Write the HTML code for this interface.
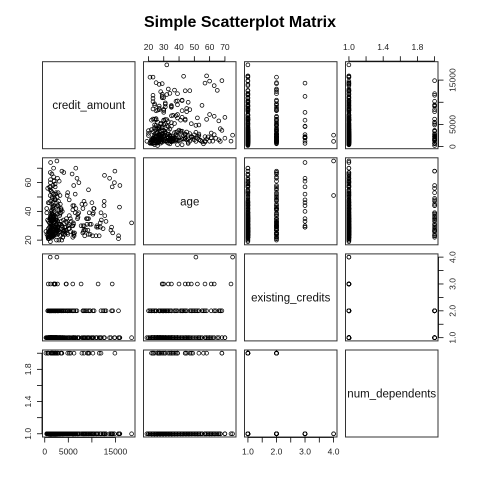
<!DOCTYPE html>
<html><head><meta charset="utf-8"><style>
html,body{margin:0;padding:0;background:#fff}
svg{display:block;font-family:"Liberation Sans",sans-serif}
</style></head><body>
<svg id="chart" width="480" height="480" viewBox="0 0 480 480">
<text x="240" y="27" text-anchor="middle" font-size="16" font-weight="bold">Simple Scatterplot Matrix</text>
</svg>
<script>
const varNames = ["credit_amount","age","existing_credits","num_dependents"];
const creditAmount = [1169,5951,2096,7882,4870,9055,2835,6948,3059,5234,1295,4308,1567,1199,1403,1282,2424,8072,12579,3430,2134,2647,2241,1804,2069,1374,426,409,2415,6836,1913,4020,5866,1264,1474,4746,6110,2100,1225,458,2333,1158,6204,6187,6143,1393,2299,1352,7228,2073,2333,5965,1262,3378,2225,783,6468,9566,1961,6229,1391,1537,1953,14421,3181,5190,2171,1007,1819,2394,8133,730,1164,5954,1977,1526,3965,4771,9436,3832,5943,1213,1568,1755,2315,1412,1295,12612,2249,1108,618,1409,797,3617,1318,15945,2012,2622,2337,7057,1469,2323,932,1919,2445,11938,6458,6078,7721,18424,15857,15653,14896,14318,15672,14782,14179,14027,13756,12749,12680,12389,11816,11760,11560,11328,11054,10875,10477,10366,10297,10222,10144,9857,9629,9283,9277,9271,9157,8947,8858,8648,8588,8471,8386,8335,8318,8229,8086,250,4042,1239,2580,3650,1884,2712,5800,7238,6580,3000,1200,900,2500,700,1500,3800,1100,2900,600,4500,1600,2700,3300,1800,1000,3500,5200,4200,2200,1700,2800,3900,4600,5500,6600,7000,12000,13000,10000,11000,
1520,2310,980,3120,1750,2640,1340,860,2080,3560,1190,2470,1630,740,2890,1910,3240,1460,2150,1080,1820,2560,3410,1290,950,2730,1570,2010,3680,1370,820,2380,1690,3050,1230,2220,1510,2950,1140,1860,2640,3330,1420,990,2480,1770,3140,1260,2060,1590,2820,880,1960,2370,3720,1310,2590,1720,1050,2270,4120,4380,4730,5060,5420,3910,4290,4950,5610,6040,2130,1480,1920,2660,1110,3470,2910,1660,2420,1350,1040,1560,2190,2840,3230,1210,1880,2520,3010,1430,4560,5150,6320,3780,4890,2760,1980,1620,2310,3590,640,780,1130,1450,1830,2260,2690,3150,1270,1710,920,1540,2050,2580,3370,1180,1990,2430,3810,1330];
const age = [67,22,49,45,53,35,53,35,61,28,25,24,22,60,28,32,53,25,44,31,48,44,48,44,26,36,39,42,34,63,36,27,30,57,33,25,31,37,37,24,30,26,44,24,58,35,39,23,39,28,29,30,25,31,57,26,52,31,23,23,27,50,61,25,26,48,29,22,37,25,30,46,51,41,40,66,34,51,39,22,44,47,24,58,52,29,27,47,30,28,56,54,33,20,54,58,61,34,36,36,41,24,24,35,26,39,39,32,30,32,43,21,68,57,23,60,29,27,63,37,65,28,29,32,23,29,30,23,42,42,39,38,23,31,24,55,35,24,27,31,35,27,45,23,30,47,27,26,42,26,67,74,75,68,70,63,66,60,70,20,19,21,20,22,23,22,27,27,34,33,31,38,45,42,46,41,37,29,33,28,24,26,35,26,42,38,34,33,46,29,
23,26,29,31,34,27,25,22,28,33,36,24,30,21,27,32,38,26,29,35,23,28,41,31,25,27,37,33,30,22,24,28,43,26,34,29,39,31,25,44,27,23,35,32,28,46,26,30,24,38,29,21,33,27,40,25,31,36,22,34,26,29,32,28,35,24,27,30,33,25,48,45,52,50,55,42,47,49,43,40,57,53,59,44,51,62,64,46,41,38,27,31,25,29,24,33,36,22,26,30,23,28,35,27,32,25,29,37,31,24,26,34,28,30,39,22,33,27,25,36];
const existingCredits = [2,1,1,1,2,1,1,1,1,2,1,1,1,1,1,2,1,1,1,1,3,1,2,1,1,1,1,1,1,2,1,1,2,1,1,2,1,2,1,1,1,1,2,1,2,1,1,1,1,1,1,1,1,1,1,1,1,2,1,1,2,2,2,2,1,1,2,1,1,1,2,3,4,1,3,1,2,2,1,1,3,1,1,1,2,1,1,1,2,1,2,1,1,1,1,1,3,1,1,1,1,1,2,1,1,2,1,1,3,1,1,2,1,3,1,1,2,1,1,2,1,2,1,1,1,3,1,1,2,1,1,2,1,1,2,1,1,2,1,1,2,1,2,1,1,2,1,1,2,1,2,3,4,2,1,3,2,1,1,1,1,1,2,1,1,2,1,2,1,3,1,2,1,2,1,2,1,1,2,1,2,1,3,1,2,1,1,2,1,
1,2,1,1,2,1,1,2,1,1,2,1,1,1,2,1,2,1,1,1,2,1,1,2,1,1,2,1,1,1,2,1,1,2,1,1,3,1,2,1,1,2,1,1,2,1,1,1,2,1,1,2,1,1,2,1,2,1,1,2,1,1,2,1,1,2,1,1,2,1,1,2,1,3,1,2,1,1,2,1,1,2,1,1,2,1,1,2,1,1];
const numDependents = [1,1,2,2,2,2,1,1,1,1,1,1,1,1,1,1,1,1,1,2,1,2,2,1,1,2,1,1,1,1,1,1,1,1,1,1,1,1,1,1,1,1,2,1,1,1,1,1,1,1,1,1,1,1,1,2,1,1,1,1,1,1,1,1,1,1,2,1,1,1,1,1,1,1,1,1,1,1,2,1,1,1,1,2,1,1,1,1,1,1,2,1,1,1,1,1,1,1,1,1,1,1,1,1,1,2,1,1,1,1,1,1,2,1,1,1,1,1,1,1,1,1,1,1,2,1,1,1,1,1,1,2,1,1,1,1,1,2,1,1,1,1,1,1,1,2,1,1,1,2,1,1,1,2,1,1,1,1,1,1,1,1,1,2,1,1,1,1,1,1,2,1,1,1,1,1,2,1,1,1,1,1,1,2,1,1,1,1,
1,1,2,1,1,1,2,1,1,1,1,2,1,1,1,1,2,1,1,1,1,1,2,1,1,1,1,2,1,1,1,1,1,2,1,1,1,1,2,1,1,1,1,1,2,1,1,1,1,2,1,1,1,1,1,2,1,1,1,1];
const creditTicks = [0,5000,10000,15000];
const creditTickLabels = ["0","5000","","15000"];
const ageTicks = [20,30,40,50,60,70];
const ageTopLabels = ["20","30","40","50","60","70"];
const ageLeftLabels = ["20","","40","","60",""];
const existingTicks = [1,1.5,2,2.5,3,3.5,4];
const existingTickLabels = ["1.0","","2.0","","3.0","","4.0"];
const depTicks = [1,1.2,1.4,1.6,1.8,2];
const depTickLabels = ["1.0","","1.4","","1.8",""];

const svg = document.getElementById('chart');
const NS = 'http://www.w3.org/2000/svg';
const series = [creditAmount, age, existingCredits, numDependents];
const n = creditAmount.length;
const X0 = 42.5, Y0 = 61.7, W = 92.5, H = 87, PX = 101, PY = 96.1;
function rng(a){let lo=Infinity,hi=-Infinity;for(let i=0;i<n;i++){const v=a[i]??1;if(v<lo)lo=v;if(v>hi)hi=v;}const p=(hi-lo)*0.04||0.04;return [lo-p,hi+p];}
const ranges = series.map(rng);
function sx(k,col,v){const r=ranges[k];return X0+col*PX+(v-r[0])/(r[1]-r[0])*W;}
function sy(k,row,v){const r=ranges[k];return Y0+row*PY+H-(v-r[0])/(r[1]-r[0])*H;}
function mk(tag,attrs){const e=document.createElementNS(NS,tag);for(const k in attrs)e.setAttribute(k,attrs[k]);return e;}

for(let r=0;r<4;r++)for(let c=0;c<4;c++){
  const g=mk('g',{});
  
  
  svg.appendChild(g);
  const box=mk('rect',{x:X0+c*PX,y:Y0+r*PY,width:W,height:H,fill:'none',stroke:'#333','stroke-width':1});
  
  
  g.appendChild(box);
  if(r===c){
    const t=mk('text',{x:X0+c*PX+W/2,y:Y0+r*PY+H/2+4,'text-anchor':'middle','font-size':11.5,fill:'#111'});
    t.textContent=varNames[r];
    
    
    g.appendChild(t);
    continue;
  }
  const xs=series[c], ys=series[r];
  for(let i=0;i<n;i++){
    const pt=mk('circle',{cx:sx(c,c,xs[i]??1).toFixed(1),cy:sy(r,r,ys[i]??1).toFixed(1),r:1.9,fill:'none',stroke:'#000','stroke-width':0.75});
    
    
    g.appendChild(pt);
  }
}

function axis(side,k,idx,ticks,labels){
  const g=mk('g',{stroke:'#000','stroke-width':0.8});
  
  
  svg.appendChild(g);
  const vals=ticks.map(t=>side==='top'||side==='bottom'?sx(k,idx,t):sy(k,idx,t));
  let edge;
  if(side==='top')edge=Y0-0.5;
  if(side==='bottom')edge=Y0+3*PY+H+0.5;
  if(side==='left')edge=X0-0.5;
  if(side==='right')edge=X0+3*PX+W+0.5;
  const horiz=side==='top'||side==='bottom';
  const dir=(side==='top'||side==='left')?-1:1;
  const a=Math.min(...vals),b=Math.max(...vals);
  g.appendChild(horiz?mk('line',{x1:a,x2:b,y1:edge,y2:edge}):mk('line',{x1:edge,x2:edge,y1:a,y2:b}));
  ticks.forEach((t,i)=>{
    const p=vals[i];
    g.appendChild(horiz?mk('line',{x1:p,x2:p,y1:edge,y2:edge+dir*5}):mk('line',{x1:edge,x2:edge+dir*5,y1:p,y2:p}));
    if(!labels[i])return;
    const lx=horiz?p:edge+dir*14, ly=horiz?edge+dir*14+3:p;
    const tx=mk('text',{x:lx,y:ly,'text-anchor':'middle','font-size':8.5,fill:'#222',stroke:'none'});
    if(!horiz)tx.setAttribute('transform','rotate(-90 '+lx+' '+ly+') translate(0 3)');
    tx.textContent=labels[i];
    
    
    g.appendChild(tx);
  });
}
axis('top',1,1,ageTicks,ageTopLabels);
axis('top',3,3,depTicks,depTickLabels);
axis('bottom',0,0,creditTicks,creditTickLabels);
axis('bottom',2,2,existingTicks,existingTickLabels);
axis('left',1,1,ageTicks,ageLeftLabels);
axis('left',3,3,depTicks,depTickLabels);
axis('right',0,0,creditTicks,creditTickLabels);
axis('right',2,2,existingTicks,existingTickLabels);
</script>
</body></html>
